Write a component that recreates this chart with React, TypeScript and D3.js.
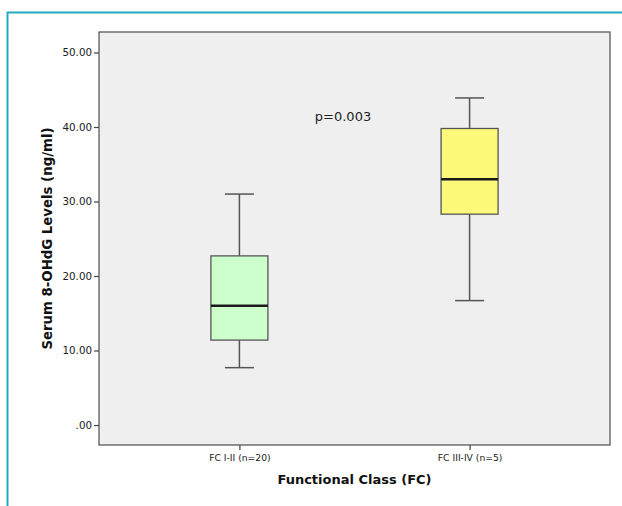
import React, { useEffect, useRef } from 'react'
import * as d3 from 'd3'

// groups on the x axis
const categories = ['FC I-II (n=20)', 'FC III-IV (n=5)']
// five-number summaries
const whiskerLow = [7.7, 16.7]
const q1 = [11.4, 28.3]
const medians = [16.0, 33.0]
const q3 = [22.7, 39.8]
const whiskerHigh = [31.0, 43.9]
const boxColors = ['#ccffcc', '#fdf97a']
const yTicks = [0, 10, 20, 30, 40, 50]
const pLabel = 'p=0.003'

const fmt = (v: number) => (v === 0 ? '.00' : v.toFixed(2))

const App = () => {
	const ref = useRef<SVGSVGElement>(null)

	useEffect(() => {
		const width = 622,
			height = 506
		const plot = { left: 99, right: 610, top: 32, bottom: 445 }

		const svg = d3.select(ref.current)
		svg.selectAll('*').remove()

		// teal frame of the figure
		svg.append('path')
			.attr('d', `M7.5,${height} V12.5 H${width}`)
			.attr('fill', 'none')
			.attr('stroke', '#27a8c2')
			.attr('stroke-width', 2)

		const y = d3.scaleLinear().domain([-2.68, 52.75]).range([plot.bottom, plot.top])
		const x = d3.scalePoint().domain(categories).range([plot.left, plot.right]).padding(0.61)

		// plot background
		svg.append('rect')
			.attr('x', plot.left)
			.attr('y', plot.top)
			.attr('width', plot.right - plot.left)
			.attr('height', plot.bottom - plot.top)
			.attr('fill', '#efefef')
			.attr('stroke', '#5a5a5a')
			.attr('stroke-width', 1.3)

		// y axis
		const yAxis = svg.append('g')
			.attr('transform', `translate(${plot.left},0)`)
			.call(d3.axisLeft(y).tickValues(yTicks).tickFormat(d => fmt(+d)).tickSize(5).tickPadding(2))
		yAxis.select('.domain').remove()
		yAxis.selectAll('line').attr('stroke', '#444').attr('stroke-width', 1.2)
		yAxis.selectAll('text')
			.attr('fill', '#1a1a1a')
			.style('font-family', 'DejaVu Sans')
			.style('font-size', '10.3px')

		// x axis
		const xAxis = svg.append('g')
			.attr('transform', `translate(0,${plot.bottom})`)
			.call(d3.axisBottom(x).tickSize(5).tickPadding(4))
		xAxis.select('.domain').remove()
		xAxis.selectAll('line').attr('stroke', '#444').attr('stroke-width', 1.2)
		xAxis.selectAll('text')
			.attr('fill', '#1a1a1a')
			.style('font-family', 'DejaVu Sans')
			.style('font-size', '9.2px')

		const boxW = 57,
			capW = 29
		const g = svg.append('g')

		categories.forEach((c, i) => {
			const cx = x(c) as number
			const b = g.append('g')
			// whiskers
			b.append('line')
				.attr('x1', cx).attr('x2', cx)
				.attr('y1', y(whiskerHigh[i])).attr('y2', y(q3[i]))
				.attr('stroke', '#555').attr('stroke-width', 1.5)
			b.append('line')
				.attr('x1', cx).attr('x2', cx)
				.attr('y1', y(q1[i])).attr('y2', y(whiskerLow[i]))
				.attr('stroke', '#555').attr('stroke-width', 1.5)
			;[whiskerHigh[i], whiskerLow[i]].forEach(v => {
				b.append('line')
					.attr('x1', cx - capW / 2).attr('x2', cx + capW / 2)
					.attr('y1', y(v)).attr('y2', y(v))
					.attr('stroke', '#555').attr('stroke-width', 1.5)
			})
			// box
			b.append('rect')
				.attr('x', cx - boxW / 2)
				.attr('y', y(q3[i]))
				.attr('width', boxW)
				.attr('height', y(q1[i]) - y(q3[i]))
				.attr('fill', boxColors[i])
				.attr('stroke', '#555')
				.attr('stroke-width', 1.3)
			// median
			b.append('line')
				.attr('x1', cx - boxW / 2).attr('x2', cx + boxW / 2)
				.attr('y1', y(medians[i])).attr('y2', y(medians[i]))
				.attr('stroke', '#1a1a1a').attr('stroke-width', 2.5)
		})

		// p value annotation
		svg.append('text')
			.attr('x', 343)
			.attr('y', 121)
			.attr('text-anchor', 'middle')
			.attr('fill', '#222')
			.style('font-family', 'DejaVu Sans')
			.style('font-size', '13px')
			.text(pLabel)

		// axis titles
		svg.append('text')
			.attr('x', (plot.left + plot.right) / 2)
			.attr('y', 484)
			.attr('text-anchor', 'middle')
			.attr('fill', '#111')
			.style('font-family', 'DejaVu Sans')
			.style('font-weight', 'bold')
			.style('font-size', '13px')
			.text('Functional Class (FC)')

		svg.append('text')
			.attr('transform', `translate(52,${(plot.top + plot.bottom) / 2}) rotate(-90)`)
			.attr('text-anchor', 'middle')
			.attr('fill', '#111')
			.style('font-family', 'DejaVu Sans')
			.style('font-weight', 'bold')
			.style('font-size', '13.3px')
			.text('Serum 8-OHdG Levels (ng/ml)')
	}, [])

	return (
		<svg
			ref={ref}
			width={622}
			height={506}
			style={{ position: 'absolute', left: 0, top: 0, background: '#fff' }}
		></svg>
	)
}

export default App
